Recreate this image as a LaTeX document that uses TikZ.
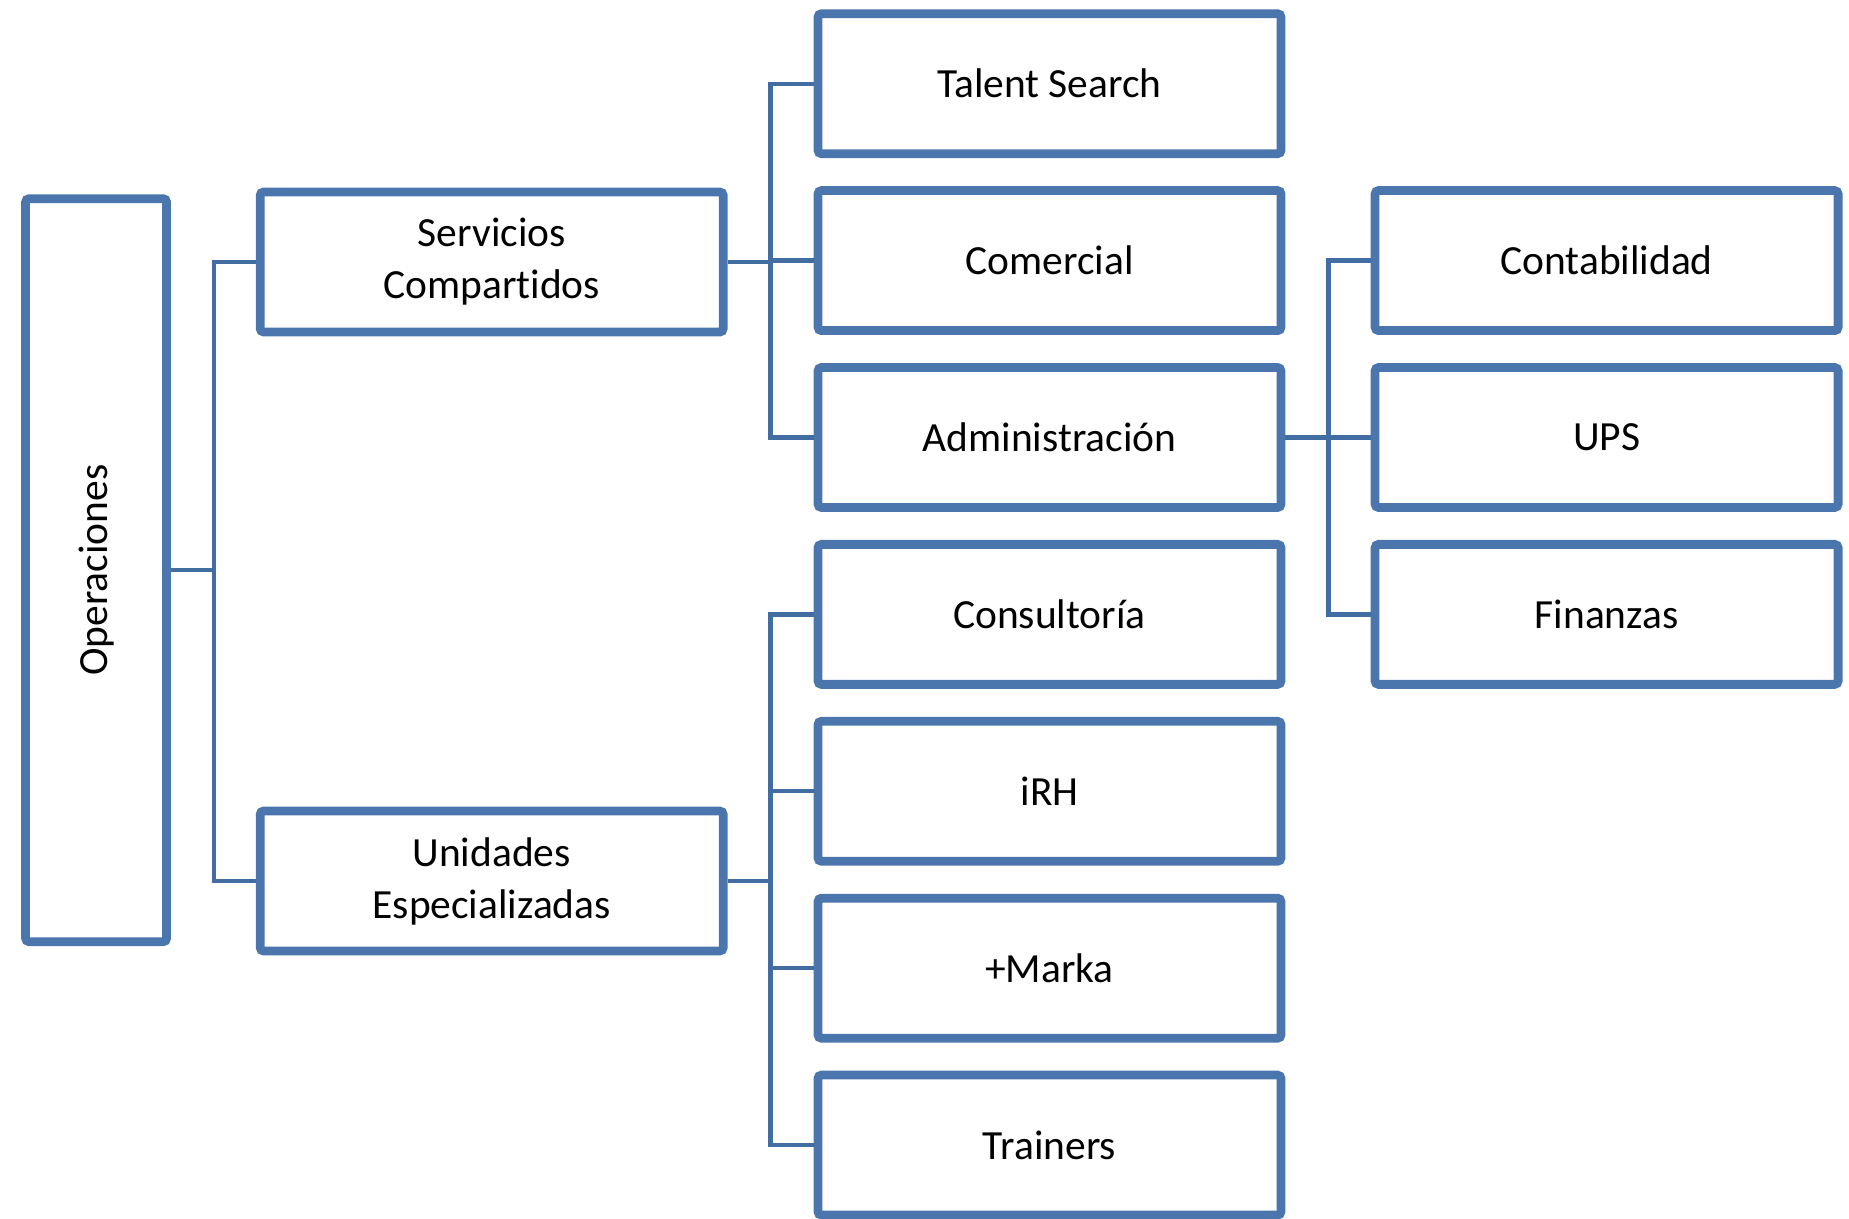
\documentclass[tikz,border=0pt]{standalone}
\usepackage{fontspec}
\setmainfont[Ligatures={NoCommon,NoContextual},RawFeature={-calt}]{Carlito}
\usetikzlibrary{shadows}
\definecolor{boxblue}{RGB}{74,118,173}
\definecolor{lineblue}{RGB}{66,109,163}
\tikzset{
  orgbox/.style={draw=boxblue, line width=2.5pt, fill=white, rounded corners=1pt,
    minimum width=4.63cm, minimum height=1.40cm, align=center,
    font=\fontsize{11.8}{14.8}\selectfont,
    drop shadow={shadow xshift=0.8pt, shadow yshift=-1pt, opacity=0.25}},
  orgline/.style={draw=lineblue, line width=1.2pt}
}

\begin{document}
\begin{tikzpicture}
        \useasboundingbox (0,0) rectangle (18.49,-12.19);

        % Root box with vertical text
        \node[orgbox, minimum width=1.41cm, minimum height=7.43cm] (ops) at (0.961,-5.702) {\rotatebox{90}{Operaciones}};

        % Second level
        \node[orgbox] (serv) at (4.917,-2.62) {Servicios\\Compar\kern0pt tidos};
        \node[orgbox] (unid) at (4.917,-8.81) {Unidades\\Especializadas};

        % Third level
        \node[orgbox] (talent) at (10.495,-0.837) {Talent Search};
        \node[orgbox] (comer) at (10.495,-2.606) {Comercial};
        \node[orgbox] (admin) at (10.495,-4.375) {Administración};
        \node[orgbox] (consul) at (10.495,-6.144) {Consultoría};
        \node[orgbox] (irh) at (10.495,-7.913) {iRH};
        \node[orgbox] (marka) at (10.495,-9.682) {+Marka};
        \node[orgbox] (train) at (10.495,-11.451) {Trainers};

        % Under Administracion
        \node[orgbox] (conta) at (16.066,-2.606) {Contabilidad};
        \node[orgbox] (ups) at (16.066,-4.375) {UPS};
        \node[orgbox] (finan) at (16.066,-6.144) {Finanzas};

        % Connectors
        \draw[orgline] (ops.east) -- ++(0.43,0) |- (serv.west);
        \draw[orgline] (ops.east) -- ++(0.43,0) |- (unid.west);
        \foreach \n in {talent,comer,admin}
            \draw[orgline] (serv.east) -- ++(0.43,0) |- (\n.west);
        \foreach \n in {consul,irh,marka,train}
            \draw[orgline] (unid.east) -- ++(0.43,0) |- (\n.west);
        \foreach \n in {conta,ups,finan}
            \draw[orgline] (admin.east) -- ++(0.43,0) |- (\n.west);

\end{tikzpicture}
\end{document}
